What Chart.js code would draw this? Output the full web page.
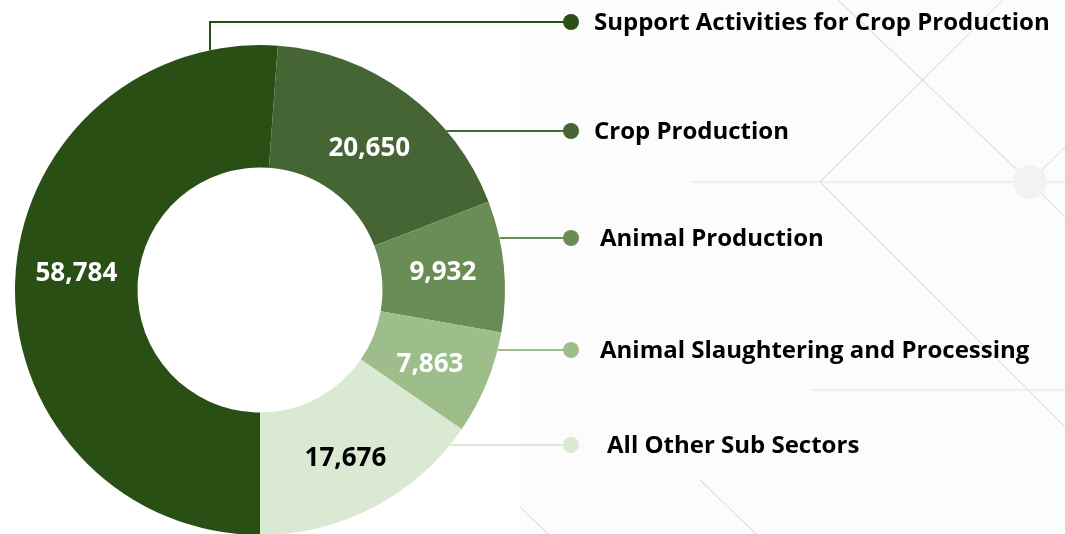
<!DOCTYPE html>
<html>
<head>
<meta charset="utf-8">
<script src="https://cdn.jsdelivr.net/npm/chart.js@4"></script>
<style>
    html, body { margin: 0; padding: 0; overflow: hidden; background: #ffffff; }
    #wrap { position: absolute; left: 0; top: 0; width: 1065px; height: 600px; }
</style>
</head>
<body>
<div id="wrap"><canvas id="donutChart" width="1065" height="600"></canvas></div>
<script>
        // Chart data
        const sectors = [
            'Support Activities for Crop Production',
            'Crop Production',
            'Animal Production',
            'Animal Slaughtering and Processing',
            'All Other Sub Sectors'
        ];
        const employees = [58784, 20650, 9932, 7863, 17676];
        const sliceColors = ['#294f15', '#456534', '#6a8d55', '#9dbe8a', '#d9e9d2'];
        const valueColors = ['#ffffff', '#ffffff', '#ffffff', '#ffffff', '#000000'];

        // Legend layout (row y and text start x, in pixels)
        const legendRows = [
            { y: 22, textX: 594 },
            { y: 131, textX: 594 },
            { y: 238, textX: 600 },
            { y: 350, textX: 600 },
            { y: 445, textX: 607 }
        ];
        const markerX = 571;
        const firstStubOffset = -50; // first leader goes up from the ring at centre x - 50
        const valueNudgeY = [-10, 6, 0, 5, 6]; // small vertical nudges for the slice values

        const FONT = '"Open Sans", "Noto Sans", sans-serif';

        // Faint geometric background on the right side
        const backgroundArt = {
            id: 'background_art',
            beforeDraw(chart) {
                const ctx = chart.ctx;
                ctx.save();
                ctx.fillStyle = '#ffffff';
                ctx.fillRect(0, 0, chart.width, chart.height);
                ctx.fillStyle = '#fdfcfc';
                ctx.fillRect(520, 0, chart.width - 520, chart.height);
                ctx.strokeStyle = '#e4e0df';
                ctx.lineWidth = 1.2;
                const segs = [
                    [690, 182, 1065, 182],
                    [820, 182, 1003, 0],
                    [820, 182, 1080, 442],
                    [838, 0, 1030, 182],
                    [1030, 182, 1080, 232],
                    [1030, 182, 1075, 137],
                    [810, 390, 1065, 390],
                    [700, 480, 756, 534],
                    [520, 507, 548, 534]
                ];
                segs.forEach(s => {
                    ctx.beginPath();
                    ctx.moveTo(s[0], s[1]);
                    ctx.lineTo(s[2], s[3]);
                    ctx.stroke();
                });
                ctx.fillStyle = '#f3f2f1';
                ctx.beginPath();
                ctx.arc(1030, 182, 17, 0, Math.PI * 2);
                ctx.fill();
                ctx.restore();
            }
        };

        // Values inside slices
        const sliceValues = {
            id: 'slice_values',
            afterDatasetsDraw(chart) {
                const ctx = chart.ctx;
                const meta = chart.getDatasetMeta(0);
                ctx.save();
                ctx.font = `bold 26px ${FONT}`;
                ctx.textAlign = 'center';
                ctx.textBaseline = 'middle';
                meta.data.forEach((arc, i) => {
                    const p = arc.getCenterPoint();
                    ctx.fillStyle = valueColors[i];
                    ctx.fillText(employees[i].toLocaleString('en-US'), p.x, p.y + valueNudgeY[i]);
                });
                ctx.restore();
            }
        };

        // Leader lines and legend labels
        const leaderLegend = {
            id: 'leader_legend',
            afterDraw(chart) {
                const ctx = chart.ctx;
                const meta = chart.getDatasetMeta(0);
                ctx.save();
                ctx.lineWidth = 2;
                meta.data.forEach((arc, i) => {
                    const row = legendRows[i];
                    const R = arc.outerRadius;
                    ctx.strokeStyle = sliceColors[i];
                    ctx.fillStyle = sliceColors[i];
                    ctx.beginPath();
                    if (i === 0) {
                        const sx = arc.x + firstStubOffset;
                        const sy = arc.y - Math.sqrt(R * R - firstStubOffset * firstStubOffset);
                        ctx.moveTo(sx, sy);
                        ctx.lineTo(sx, row.y);
                        ctx.lineTo(markerX, row.y);
                    } else {
                        const dy = row.y - arc.y;
                        const sx = arc.x + Math.sqrt(Math.max(R * R - dy * dy, 0));
                        ctx.moveTo(sx, row.y);
                        ctx.lineTo(markerX, row.y);
                    }
                    ctx.stroke();
                    ctx.beginPath();
                    ctx.arc(markerX, row.y, 8, 0, Math.PI * 2);
                    ctx.fill();

                    ctx.fillStyle = '#000000';
                    ctx.font = `bold 24px ${FONT}`;
                    ctx.textAlign = 'left';
                    ctx.textBaseline = 'middle';
                    ctx.fillText(sectors[i], row.textX, row.y + 1);
                });
                ctx.restore();
            }
        };

        const ctx = document.getElementById('donutChart').getContext('2d');
        const donutChart = new Chart(ctx, {
            type: 'doughnut',
            data: {
                labels: sectors,
                datasets: [{
                    data: employees,
                    backgroundColor: sliceColors,
                    borderWidth: 0
                }]
            },
            options: {
                responsive: false,
                animation: false,
                events: [],
                devicePixelRatio: 1,
                rotation: 180,
                cutout: '50%',
                layout: {
                    padding: { left: 15, top: 45, right: 560, bottom: 65 }
                },
                plugins: {
                    legend: { display: false },
                    tooltip: { enabled: false }
                }
            },
            plugins: [backgroundArt, sliceValues, leaderLegend]
        });
</script>
</body>
</html>
